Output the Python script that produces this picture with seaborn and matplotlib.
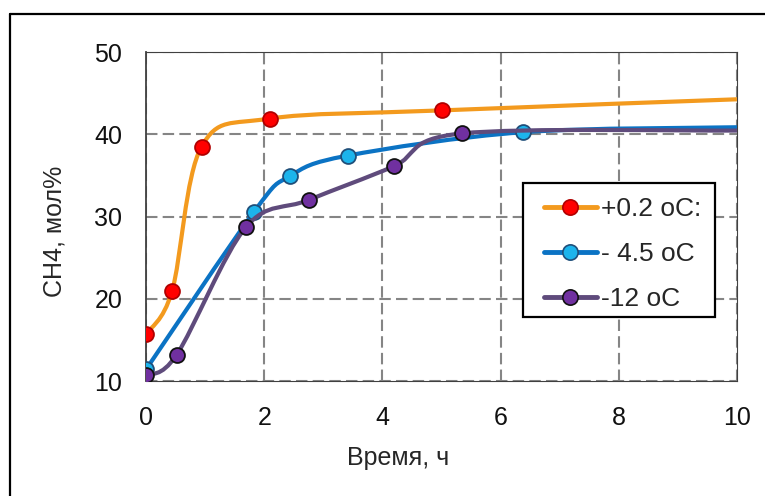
import numpy as np
import matplotlib.pyplot as plt
import seaborn as sns
from matplotlib.path import Path
from matplotlib.patches import PathPatch, Rectangle
from matplotlib.lines import Line2D

# --- data (time in hours, CH4 in mol%) ---
labels = ['+0.2 oC:', '- 4.5 oC', '-12 oC']
t_warm = [0.0, 0.44, 0.94, 2.09, 5.0, 10.0]
ch4_warm = [15.7, 20.9, 38.5, 41.9, 42.9, 44.25]
t_mid = [0.0, 1.83, 2.43, 3.41, 6.38, 10.0]
ch4_mid = [11.4, 30.6, 34.9, 37.4, 40.25, 40.85]
t_cold = [0.0, 0.52, 1.69, 2.75, 4.19, 5.34, 10.0]
ch4_cold = [10.7, 13.2, 28.7, 32.0, 36.1, 40.1, 40.45]
# last point of each series is the end of the trend line (no marker)

x_ticks = [0, 2, 4, 6, 8, 10]
y_ticks = [10, 20, 30, 40, 50]

line_colors = ['#F39A1E', '#0B73C4', '#5F4B7C']
marker_faces = ['#FF0000', '#1CB4EC', '#7030A0']
marker_edges = ['#B00000', '#1F4F7A', '#111111']


def smooth_path(x, y):
    # Excel-style smoothed line: cubic bezier through the points
    p = np.column_stack([x, y])
    pts = np.vstack([p[0], p, p[-1]])
    verts = [p[0]]
    codes = [Path.MOVETO]
    for i in range(1, len(pts) - 2):
        p0, p1, p2, p3 = pts[i - 1], pts[i], pts[i + 1], pts[i + 2]
        verts += [p1 + (p2 - p0) / 6, p2 - (p3 - p1) / 6, p2]
        codes += [Path.CURVE4] * 3
    return Path(verts, codes)


sns.set_style("white")
plt.rcParams['font.family'] = ['Liberation Sans', 'DejaVu Sans']

fig = plt.figure(figsize=(7.65, 4.96), dpi=100)
ax = fig.add_axes([0.19085, 0.23185, 0.77255, 0.66331])

series = [(t_warm, ch4_warm), (t_mid, ch4_mid), (t_cold, ch4_cold)]
for i, (t, c) in enumerate(series):
    patch = PathPatch(smooth_path(t, c), fill=False, edgecolor=line_colors[i],
                      lw=3.0, capstyle='butt', joinstyle='round', zorder=3 + 2 * i)
    ax.add_patch(patch)
    sns.scatterplot(x=t[:-1], y=c[:-1], ax=ax, s=115, color=marker_faces[i],
                    edgecolor=marker_edges[i], linewidth=1.3, zorder=4 + 2 * i,
                    legend=False)

ax.set_xlim(0, 10)
ax.set_ylim(10, 50)
ax.set_xticks(x_ticks)
ax.set_yticks(y_ticks)
ax.tick_params(axis='both', direction='out', length=6, width=1.2, color='#404040',
               labelsize=18, labelcolor='#111111')
ax.tick_params(axis='x', pad=12)
ax.tick_params(axis='y', pad=11)
ax.set_axisbelow(True)
ax.grid(True, color='#858585', lw=1.5, linestyle=(0, (5.5, 2.5)))
for s in ax.spines.values():
    s.set_color('#404040')
    s.set_linewidth(0.8)
ax.spines['left'].set_linewidth(1.3)

ax.set_xlabel('Время, ч', fontsize=18)
ax.set_ylabel('CH4, мол%', fontsize=18)
ax.xaxis.set_label_coords(0.4264, -0.197)
ax.yaxis.set_label_coords(-0.135, 0.454)

# legend with a hand-placed white box
handles = [Line2D([], [], color=line_colors[i], lw=3.5, marker='o', markersize=11,
                  markerfacecolor=marker_faces[i], markeredgecolor=marker_edges[i],
                  markeredgewidth=1.2) for i in range(3)]
W, H = 765, 496
ax.add_patch(Rectangle((523 / W, 1 - 317 / H), 192 / W, 134 / H, transform=fig.transFigure,
                       facecolor='white', edgecolor='black', lw=1.6, zorder=19, clip_on=False))
leg = ax.legend(handles, labels, loc='upper left', frameon=False, fontsize=19,
                bbox_to_anchor=(544 / W, 1 - 197 / H), bbox_transform=fig.transFigure,
                borderpad=0, borderaxespad=0, handlelength=2.0, handletextpad=0.15,
                labelspacing=0.8)
leg.set_zorder(20)

# outer frame of the picture
fig.add_artist(Line2D([9.5 / W, 9.5 / W], [0, 1 - 14 / H], transform=fig.transFigure,
                      color='black', lw=1.6))
fig.add_artist(Line2D([9.5 / W, 1], [1 - 14 / H, 1 - 14 / H], transform=fig.transFigure,
                      color='black', lw=1.6))

fig.savefig('out.png', dpi=100)
